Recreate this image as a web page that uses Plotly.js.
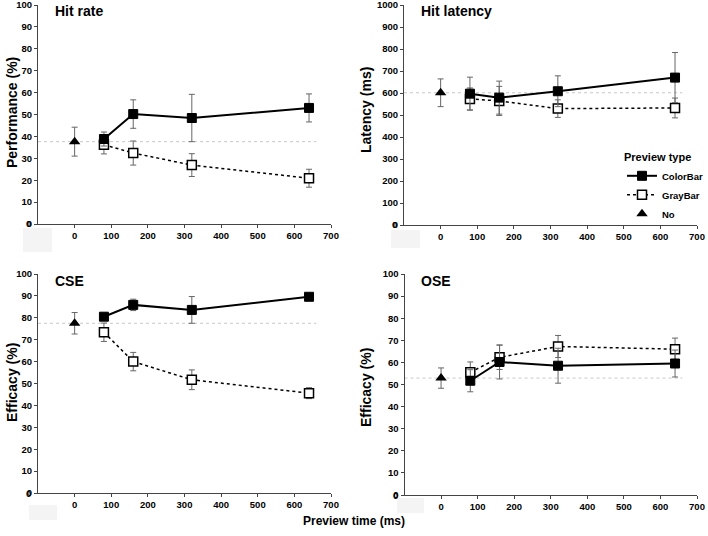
<!DOCTYPE html>
<html>
<head>
<meta charset="utf-8">
<script src="https://cdn.plot.ly/plotly-3.0.1.min.js"></script>
<style>html,body{margin:0;padding:0;background:#fff;}#chart{width:708px;height:536px;}</style>
</head>
<body>
<div id="chart"></div>
<script>
// ---- data ----
const previewTimes = [80, 160, 320, 640];
const noPreviewTime = [0];
const xTickVals = [0, 100, 200, 300, 400, 500, 600, 700];
const pctTickVals = [0, 10, 20, 30, 40, 50, 60, 70, 80, 90, 100];
const msTickVals = [0, 100, 200, 300, 400, 500, 600, 700, 800, 900, 1000];

const hitRateColor = [38.8, 50.2, 48.4, 53.0];
const hitRateColorErr = [3.2, 6.5, 10.8, 6.4];
const hitRateGray = [36.2, 32.4, 26.9, 20.9];
const hitRateGrayErr = [4.2, 5.5, 5.2, 4.1];
const hitRateNo = [37.6];
const hitRateNoErr = [6.6];

const latencyColor = [597, 579, 608, 670];
const latencyColorErr = [75, 75, 70, 114];
const latencyGray = [573, 564, 529, 532];
const latencyGrayErr = [50, 66, 40, 45];
const latencyNo = [601];
const latencyNoErr = [63];

const cseColor = [80.5, 85.9, 83.6, 89.6];
const cseColorErr = [1.5, 2.6, 6.1, 1.5];
const cseGray = [73.4, 60.0, 51.7, 45.6];
const cseGrayErr = [4.2, 4.2, 4.5, 2.5];
const cseNo = [77.5];
const cseNoErr = [4.9];

const oseColor = [51.7, 60.2, 58.5, 59.5];
const oseColorErr = [5.0, 7.7, 7.9, 6.1];
const oseGray = [55.5, 62.3, 67.2, 66.0];
const oseGrayErr = [4.7, 5.5, 5.0, 5.0];
const oseNo = [52.9];
const oseNoErr = [4.6];

const panelTitles = ['Hit rate', 'Hit latency', 'CSE', 'OSE'];
const yTitles = ['Performance (%)', 'Latency (ms)', 'Efficacy (%)', 'Efficacy (%)'];
const seriesNames = ['ColorBar', 'GrayBar', 'No'];

// ---- build ----
const FONT = 'Liberation Sans, Arial, Helvetica, sans-serif';
const errColor = '#666';
const tickFont = {size: 9.5, weight: 'bold', family: FONT, color: '#000'};
const panels = [
  {c: hitRateColor, ce: hitRateColorErr, g: hitRateGray, ge: hitRateGrayErr, n: hitRateNo, ne: hitRateNoErr, ymax: 100, ticks: pctTickVals},
  {c: latencyColor, ce: latencyColorErr, g: latencyGray, ge: latencyGrayErr, n: latencyNo, ne: latencyNoErr, ymax: 1000, ticks: msTickVals},
  {c: cseColor, ce: cseColorErr, g: cseGray, ge: cseGrayErr, n: cseNo, ne: cseNoErr, ymax: 100, ticks: pctTickVals},
  {c: oseColor, ce: oseColorErr, g: oseGray, ge: oseGrayErr, n: oseNo, ne: oseNoErr, ymax: 100, ticks: pctTickVals}
];

const W = 708, H = 536;
const px = v => v / W, py = v => 1 - v / H;
const domains = [
  {x: [px(38), px(331)], y: [py(224), py(5)]},
  {x: [px(404), px(697)], y: [py(225), py(5)]},
  {x: [px(38), px(331)], y: [py(493), py(274)]},
  {x: [px(404.5), px(697)], y: [py(495), py(274)]}
];

const traces = [];
const layout = {
  width: W, height: H,
  margin: {l: 0, r: 0, t: 0, b: 0},
  paper_bgcolor: '#fff', plot_bgcolor: '#fff',
  font: {family: FONT, color: '#000'},
  showlegend: true,
  legend: {
    x: px(622), y: py(147), xanchor: 'left', yanchor: 'top',
    title: {text: 'Preview type', font: {size: 11, weight: 'bold', family: FONT}},
    font: {size: 9.5, weight: 'bold', family: FONT},
    bgcolor: 'rgba(0,0,0,0)', tracegroupgap: 0, itemwidth: 30
  },
  annotations: [], shapes: []
};

panels.forEach((p, i) => {
  const sfx = i === 0 ? '' : String(i + 1);
  const xa = 'x' + sfx, ya = 'y' + sfx;
  const show = i === 0;
  traces.push({
    x: previewTimes, y: p.g, xaxis: xa, yaxis: ya, name: seriesNames[1], legendrank: 2,
    mode: 'lines+markers', showlegend: show,
    line: {color: '#000', width: 1.5, dash: 'dot'},
    marker: {symbol: 'square', size: 9, color: '#fff', line: {color: '#000', width: 1.5}},
    error_y: {type: 'data', array: p.ge, visible: true, color: errColor, thickness: 1, width: 3}
  });
  traces.push({
    x: previewTimes, y: p.c, xaxis: xa, yaxis: ya, name: seriesNames[0], legendrank: 1,
    mode: 'lines+markers', showlegend: show,
    line: {color: '#000', width: 2},
    marker: {symbol: 'square', size: 9, color: '#000', line: {color: '#000', width: 1}},
    error_y: {type: 'data', array: p.ce, visible: true, color: errColor, thickness: 1, width: 3}
  });
  traces.push({
    x: noPreviewTime, y: p.n, xaxis: xa, yaxis: ya, name: seriesNames[2], legendrank: 3,
    mode: 'markers', showlegend: show,
    marker: {symbol: 'triangle-up', size: 10, color: '#000'},
    error_y: {type: 'data', array: p.ne, visible: true, color: errColor, thickness: 1, width: 3}
  });

  const axBase = {
    showgrid: false, zeroline: false, showline: true, linecolor: '#444', linewidth: 1,
    ticks: 'outside', ticklen: 3, tickcolor: '#444',
    ticklabeloverflow: 'allow', tickfont: tickFont
  };
  layout['xaxis' + sfx] = Object.assign({}, axBase, {
    domain: domains[i].x, anchor: ya, range: [-100, 700],
    tickmode: 'array', tickvals: xTickVals
  });
  layout['yaxis' + sfx] = Object.assign({}, axBase, {
    domain: domains[i].y, anchor: xa, range: [0, p.ymax],
    tickmode: 'array', tickvals: p.ticks
  });

  // the y-axis "0" label at the axis corner (Plotly drops it there)
  layout.annotations.push({
    text: String(p.ticks[0]), xref: xa + ' domain', yref: ya, x: 0, y: p.ticks[0],
    xanchor: 'right', yanchor: 'middle', xshift: -5, showarrow: false, font: tickFont
  });

  // baseline from the no-preview value
  layout.shapes.push({
    type: 'line', xref: xa, yref: ya, x0: -100, x1: 660, y0: p.n[0], y1: p.n[0],
    line: {color: '#c8c8c8', width: 1, dash: 'dot'}, layer: 'below'
  });

  // panel title
  layout.annotations.push({
    text: panelTitles[i], xref: 'paper', yref: 'paper',
    x: px([53, 419, 53, 419][i]), y: py([11, 11, 281, 281][i]),
    xanchor: 'left', yanchor: 'middle', showarrow: false,
    font: {size: 14, weight: 'bold', family: FONT, color: '#000'}
  });
  // y axis title
  layout.annotations.push({
    text: yTitles[i], xref: 'paper', yref: 'paper', textangle: -90,
    x: px([12, 366, 12, 366][i]), y: py([113, 110, 383, 387][i]),
    xanchor: 'center', yanchor: 'middle', showarrow: false,
    font: {size: 14, weight: 'bold', family: FONT, color: '#000'}
  });
  // faint box over the -100 tick label
  const bx = [[23, 52, 228, 252], [391, 420, 230, 248], [29, 57, 505, 520], [397, 424, 498, 513]][i];
  layout.shapes.push({
    type: 'rect', xref: 'paper', yref: 'paper',
    x0: px(bx[0]), x1: px(bx[1]), y0: py(bx[3]), y1: py(bx[2]),
    fillcolor: '#f4f4f4', line: {width: 0}, layer: 'below'
  });
});

layout.annotations.push({
  text: 'Preview time (ms)', xref: 'paper', yref: 'paper',
  x: px(354), y: py(521), xanchor: 'center', yanchor: 'middle', showarrow: false,
  font: {size: 12, weight: 'bold', family: FONT, color: '#000'}
});

Plotly.newPlot('chart', traces, layout, {staticPlot: true, displayModeBar: false});
</script>
</body>
</html>
